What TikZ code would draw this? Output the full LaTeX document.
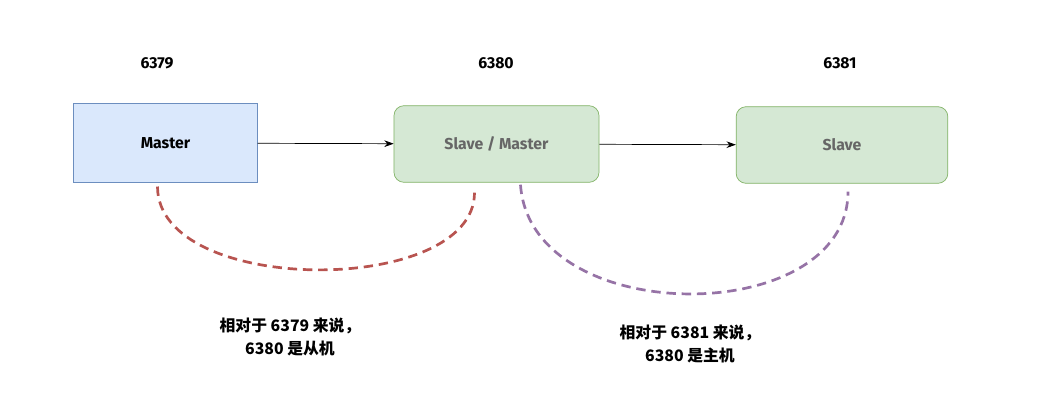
\documentclass[tikz,border=0pt]{standalone}
\usepackage{fontspec}
\setmainfont{Fira Sans}
\newfontfamily\cjk{Noto Sans CJK SC}
\usetikzlibrary{arrows.meta,positioning,calc}

\definecolor{mblue}{HTML}{DAE8FC}
\definecolor{mbluedraw}{HTML}{6C8EBF}
\definecolor{sgreen}{HTML}{D5E8D4}
\definecolor{sgreendraw}{HTML}{82B366}
\definecolor{rline}{HTML}{B85450}
\definecolor{pline}{HTML}{9673A6}
\definecolor{gtext}{HTML}{666666}

\begin{document}
\begin{tikzpicture}[x=0.03cm, y=-0.03cm,
	arr/.style={-{Stealth[length=0.28cm,width=0.2cm]},semithick},
	box/.style={rectangle,draw=mbluedraw,fill=mblue,semithick,minimum width=5.5cm,minimum height=2.35cm},
	rbox/.style={rectangle,rounded corners=0.3cm,draw=sgreendraw,fill=sgreen,semithick,minimum width=6.15cm,minimum height=2.3cm,text=gtext},
	port/.style={font=\fontsize{13.5}{15}\selectfont\bfseries},
	note/.style={align=center,font=\cjk\fontsize{13.5}{19}\selectfont\bfseries},
	dsh/.style={line width=2.3pt,dash pattern=on 8pt off 5pt},
	font=\fontsize{13.5}{15}\selectfont\bfseries]

    \useasboundingbox (0,0) rectangle (1053,407);

    \node (master) at (165.5,143) [box] {Master};
    \node (slmaster) at (496.5,144) [rbox] {Slave / Master};
    \node (slave) at (842,145) [rbox,minimum width=6.35cm] {Slave};

    \node (p6379) at (157,63) [port] {6379};
    \node (p6380) at (496,63) [port] {6380};
    \node (p6381) at (840,63) [port] {6381};

    \draw [arr] (master) -- (slmaster);
    \draw [arr] (slmaster) -- (slave);

    \coordinate (r1) at ($(master.south)+(-8,4)$);
    \coordinate (r2) at ($(slmaster.south)+(-22,10)$);
    \coordinate (v1) at ($(slmaster.south)+(24,2)$);
    \coordinate (v2) at ($(slave.south)+(6,8)$);
    \draw [dsh,rline] (r1) .. controls ($(r1)+(0,110)$) and ($(r2)+(0,104)$) .. (r2);
    \draw [dsh,pline] (v1) .. controls ($(v1)+(10,145)$) and ($(v2)+(0,137)$) .. (v2);

    \node (note1) at (290,337) [note] {相对于 6379 来说，\\6380 是从机};
    \node (note2) at (690,344) [note] {相对于 6381 来说，\\6380 是主机};

\end{tikzpicture}
\end{document}
